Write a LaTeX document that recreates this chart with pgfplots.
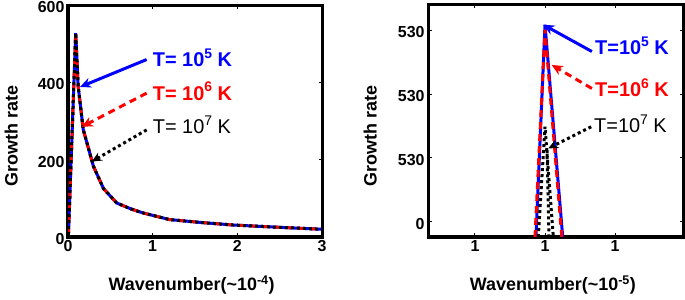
\documentclass[border=0pt]{standalone}
\usepackage{fontspec}
\setmainfont{Liberation Sans}
\usepackage{pgfplots}
\pgfplotsset{compat=1.18}
\usetikzlibrary{arrows.meta}

\pgfplotstableread{
x y
0.005 5
0.091 527
0.12 390
0.18 278
0.30 183
0.42 125
0.575 88
0.75 72
0.89 62
1.2 45
1.6 37
1.95 31
2.5 25
3.0 20
}\leftdata

\newcommand{\sups}[1]{\raisebox{0.42em}{\fontsize{14}{14}\selectfont #1}}
\tikzset{ann/.style={anchor=base west, inner sep=0, font=\fontsize{20}{20}\selectfont\bfseries}}

\begin{document}
\begin{tikzpicture}
\useasboundingbox (0,0) rectangle (685bp,300bp);
\pgfplotsset{
  myax/.style={scale only axis, width=254bp, height=232bp, anchor=south west,
    axis line style={line width=3bp}, tick align=inside, major tick length=3.5bp,
    tick style={black, line width=1bp},
    ticklabel style={font=\fontsize{16}{16}\selectfont\bfseries},
    yticklabel style={yshift=-2bp},
    label style={font=\fontsize{18}{18}\selectfont\bfseries},
    /pgf/number format/assume math mode=true,
  },
  bl/.style={blue, line width=3bp, solid},
  rd/.style={red, line width=3bp, dash pattern=on 7bp off 5bp},
  bk/.style={black, line width=3bp, dash pattern=on 3bp off 3bp},
}
% Left panel
\begin{axis}[myax, at={(68bp,63bp)},
  xmin=0, xmax=3, ymin=0, ymax=600,
  xtick={0,1,2,3}, ytick={0,200,400,600},
  xlabel={Wavenumber(\textasciitilde10\textsuperscript{-4})},
  ylabel={Growth rate},
  xlabel style={at={(rel axis cs:0.487,-0.207)}, anchor=center},
  ylabel style={at={(rel axis cs:-0.224,0.435)}, anchor=center},
]
\addplot[bl] table {\leftdata};
\addplot[rd] table {\leftdata};
\addplot[bk] table {\leftdata};
\draw[blue, line width=3bp, -{Stealth[length=11bp,width=10bp]}] (axis cs:0.929,459) -- (axis cs:0.142,388);
\draw[red, line width=3bp, dash pattern=on 7bp off 5bp, -{Stealth[length=11bp,width=10bp]}] (axis cs:0.929,372) -- (axis cs:0.162,285);
\draw[black, line width=3bp, dash pattern=on 3bp off 3bp, -{Stealth[length=10bp,width=9bp,open]}] (axis cs:0.929,277) -- (axis cs:0.28,195);
\node[ann, blue] at (axis cs:1.0,440) {T= 10\sups{5} K};
\node[ann, red] at (axis cs:1.0,354) {T= 10\sups{6} K};
\node[ann, black, font=\fontsize{20}{20}\selectfont] at (axis cs:1.0,268) {T= 10\sups{7} K};
\end{axis}
% Right panel
\begin{axis}[myax, at={(428bp,63bp)}, width=255bp,
  xmin=-1.671, xmax=1.971, ymin=-0.24, ymax=3.40,
  xtick={-1,0,1}, xticklabels={1,1,1},
  ytick={0,1,2,3}, yticklabels={0,530,530,530},
  xlabel={Wavenumber(\textasciitilde10\textsuperscript{-5})},
  ylabel={Growth rate},
  xlabel style={at={(rel axis cs:0.49,-0.207)}, anchor=center},
  ylabel style={at={(rel axis cs:-0.227,0.435)}, anchor=center},
]
\addplot[bl] coordinates {(-0.129,-0.24) (0,3.09) (0.253,-0.24)};
\addplot[rd] coordinates {(-0.143,-0.24) (0,3.01) (0.24,-0.24)};
\addplot[bk] coordinates {(-0.096,-0.24) (0,1.49) (0.119,-0.24)};
\addplot[bk] coordinates {(0.029,1.12) (0.057,-0.24)};
\draw[blue, line width=3bp, -{Stealth[length=11bp,width=10bp]}] (axis cs:0.67,2.67) -- (axis cs:-0.024,3.09);
\draw[red, line width=3bp, dash pattern=on 7bp off 5bp, -{Stealth[length=11bp,width=10bp]}] (axis cs:0.67,2.09) -- (axis cs:0.096,2.46);
\draw[black, line width=3bp, dash pattern=on 3bp off 3bp, -{Stealth[length=10bp,width=9bp,open]}] (axis cs:0.66,1.49) -- (axis cs:0.047,1.15);
\node[ann, blue] at (axis cs:0.714,2.617) {T=10\sups{5} K};
\node[ann, red] at (axis cs:0.714,1.958) {T=10\sups{6} K};
\node[ann, black, font=\fontsize{20}{20}\selectfont] at (axis cs:0.70,1.392) {T=10\sups{7} K};
\end{axis}
\end{tikzpicture}
\end{document}
